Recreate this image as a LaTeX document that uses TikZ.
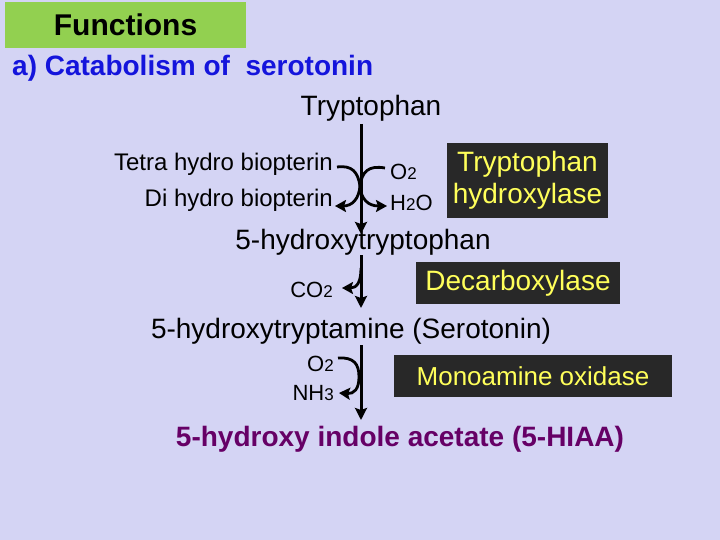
\documentclass[tikz,border=0pt]{standalone}
\usepackage{fontspec}
\setmainfont{Liberation Sans}
\usetikzlibrary{arrows.meta,calc}
\definecolor{bg}{RGB}{212,212,244}
\definecolor{fgreen}{RGB}{146,208,80}
\definecolor{titleblue}{RGB}{20,20,220}
\definecolor{boxdark}{RGB}{40,40,40}
\definecolor{boxyellow}{RGB}{255,255,90}
\definecolor{hiaa}{RGB}{102,0,102}
\newcommand{\fsz}[1]{\fontsize{#1}{#1}\selectfont}
\newcommand{\dg}[1]{{\fontsize{17}{17}\selectfont #1}}
\tikzset{
  maintxt/.style={inner sep=0pt, font=\fsz{28}},
  sidetxt/.style={inner sep=0pt, font=\fsz{24}},
  chemtxt/.style={inner sep=0pt, font=\fsz{22}},
  enzbox/.style={fill=boxdark, text=boxyellow, inner sep=0pt, font=\fsz{28}},
  mainline/.style={line width=3pt, -{Stealth[length=12pt,width=12pt,inset=2pt]}},
  hook/.style={line width=2.8pt},
  hookarrow/.style={line width=2.8pt, -{Stealth[length=11pt,width=12pt,inset=2pt]}},
}
\begin{document}
\begin{tikzpicture}[x=1pt,y=-1pt]
\fill[bg] (0,0) rectangle (720,540);
\useasboundingbox (0,0) rectangle (720,540);
% header
\node[fill=fgreen, minimum width=241pt, minimum height=46pt, inner sep=0pt,
      font=\fsz{30}\bfseries] (hdr) at (125.5,25) {Functions};
\node[anchor=west, inner sep=0pt, font=\fsz{28}\bfseries, text=titleblue] (ttl) at (12,68)
  {a) Catabolism of\ \ serotonin};
% metabolites
\node[maintxt] (trp) at (371,108) {Tryptophan};
\node[maintxt] (htp) at (363,242) {5-hydroxytryptophan};
\node[maintxt] (ser) at (351,331) {5-hydroxytryptamine (Serotonin)};
\node[inner sep=0pt, font=\fsz{28}\bfseries, text=hiaa] (hiaa) at (400,439)
  {5-hydroxy indole acetate (5-HIAA)};
% enzymes
\node[enzbox, minimum width=161pt, minimum height=75pt, align=center] (e1) at (527.5,180.5)
  {\fsz{28}Tryptophan\\[4pt] hydroxylase};
\node[enzbox, minimum width=204pt, minimum height=42pt] (e2) at (518,283) {Decarboxylase};
\node[enzbox, minimum width=278pt, minimum height=42pt, font=\fsz{26}] (e3) at (533,376) {Monoamine oxidase};
% cofactors
\node[sidetxt, anchor=east] (thb) at (333,164) {Tetra hydro biopterin};
\node[sidetxt, anchor=east] (dhb) at (333,200) {Di hydro biopterin};
\node[chemtxt, anchor=west] (o2a) at (390,172) {O\dg{2}};
\node[chemtxt, anchor=west] (h2o) at (390,203) {H\dg{2}O};
\node[chemtxt, anchor=east] (co2) at (333,290) {CO\dg{2}};
\node[chemtxt, anchor=east] (o2b) at (334,364) {O\dg{2}};
\node[chemtxt, anchor=east] (nh3) at (334,393) {NH\dg{3}};
% main line coordinates
\coordinate (a1) at (361,124);
\coordinate (a2) at (361,234);
\coordinate (b1) at (361,255);
\coordinate (b2) at (361,308);
\coordinate (c1) at (361,345);
\coordinate (c2) at (361,420);
\draw[mainline] (a1) -- (a2);
\draw[mainline] (b1) -- (b2);
\draw[mainline] (c1) -- (c2);
% hooks step 1
\coordinate (m1) at (360,186);
\draw[hook] ($(thb.east)+(4,3)$) .. controls (352,165) and (358,172) .. (m1);
\draw[hookarrow] (m1) .. controls (359,199) and (352,206) .. ($(dhb.east)+(2,6)$);
\draw[hook] ($(o2a.west)+(-5,-4)$) .. controls (368,165) and (362,172) .. (m1);
\draw[hookarrow] (m1) .. controls (361,199) and (368,206) .. ($(h2o.west)+(-3,3)$);
% hook step 2
\coordinate (m2) at (361,268);
\draw[hookarrow] (m2) .. controls (361,282) and (357,288) .. ($(co2.east)+(9,-2)$);
% hook step 3
\coordinate (m3) at (359,377);
\draw[hook] ($(o2b.east)+(4,-6)$) .. controls (354,357) and (359,364) .. (m3);
\draw[hookarrow] (m3) .. controls (359,389) and (354,394) .. ($(nh3.east)+(5,0)$);
\end{tikzpicture}
\end{document}
